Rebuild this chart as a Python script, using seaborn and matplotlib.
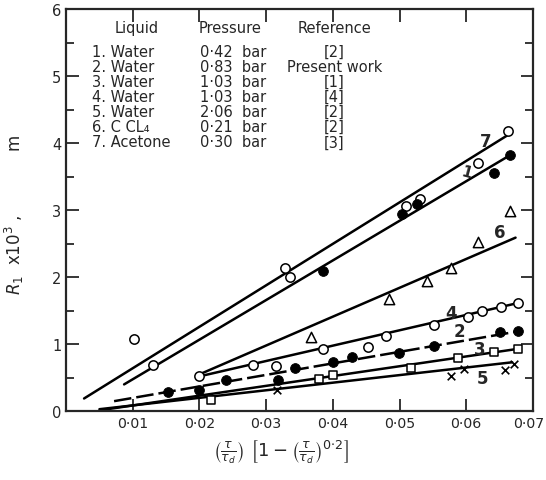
import numpy as np
import pandas as pd
import seaborn as sns
import matplotlib.pyplot as plt
import matplotlib.transforms as mtrans
from matplotlib.ticker import MultipleLocator

# measured points (x = (tau/tau_d)[1-(tau/tau_d)^0.2], y = R1 x 10^3 m)
x7 = [0.0102, 0.0131, 0.0328, 0.0336, 0.0509, 0.0531, 0.0618, 0.0662]
y7 = [1.085, 0.69, 2.14, 2.01, 3.06, 3.17, 3.71, 4.18]
x1 = [0.0386, 0.0503, 0.0526, 0.0642, 0.0666]
y1 = [2.09, 2.94, 3.09, 3.56, 3.82]
x6 = [0.0368, 0.0484, 0.0541, 0.0577, 0.0618, 0.0666]
y6 = [1.10, 1.67, 1.94, 2.14, 2.52, 2.99]
x4 = [0.020, 0.028, 0.0315, 0.0386, 0.0453, 0.0479, 0.0551, 0.0603, 0.0624, 0.0652, 0.0677]
y4 = [0.53, 0.69, 0.68, 0.925, 0.96, 1.115, 1.28, 1.40, 1.50, 1.55, 1.61]
x2 = [0.0153, 0.020, 0.024, 0.0318, 0.0343, 0.040, 0.0429, 0.0499, 0.0551, 0.0651, 0.0677]
y2 = [0.29, 0.32, 0.47, 0.47, 0.65, 0.735, 0.815, 0.875, 0.975, 1.175, 1.19]
x3 = [0.0218, 0.038, 0.040, 0.0517, 0.0587, 0.0642, 0.0677]
y3 = [0.17, 0.48, 0.537, 0.65, 0.80, 0.885, 0.925]
x5 = [0.0316, 0.0577, 0.0596, 0.0658, 0.0672]
y5 = [0.32, 0.52, 0.627, 0.617, 0.70]

# fitted straight lines: (x start, x end), (y start, y end)
fit_x = {"7": [0.0027, 0.0664], "1": [0.0087, 0.0664], "6": [0.020, 0.0674],
         "4": [0.020, 0.0680], "2": [0.0072, 0.0677], "3": [0.0055, 0.0677],
         "5": [0.0050, 0.0669]}
fit_y = {"7": [0.19, 4.13], "1": [0.40, 3.81], "6": [0.55, 2.59],
         "4": [0.52, 1.62], "2": [0.15, 1.19], "3": [0.02, 0.93],
         "5": [0.03, 0.73]}

# line labels
lab_text = ["7", "1", "6", "4", "2", "3", "5"]
lab_x = [0.0629, 0.0601, 0.0651, 0.0577, 0.0590, 0.0620, 0.0625]
lab_y = [4.03, 3.57, 2.68, 1.47, 1.20, 0.935, 0.50]

# key table
liquids = ["1. Water", "2. Water", "3. Water", "4. Water", "5. Water",
           "6. C CL₄", "7. Acetone"]
pressures = ["0·42  bar", "0·83  bar", "1·03  bar", "1·03  bar", "2·06  bar",
             "0·21  bar", "0·30  bar"]
references = ["[2]", "Present work", "[1]", "[4]", "[2]", "[2]", "[3]"]

sns.set_style("ticks")
plt.rcParams['font.family'] = ['DejaVu Sans']

fig = plt.figure(figsize=(5.46, 4.81), dpi=100)
ax = fig.add_axes([0.121, 0.143, 0.855, 0.836])

for key in fit_x:
    if key == "2":
        sns.lineplot(x=fit_x[key], y=fit_y[key], color="black", lw=1.8,
                     ax=ax, linestyle=(0, (7, 2)), zorder=2)
    else:
        sns.lineplot(x=fit_x[key], y=fit_y[key], color="black", lw=1.8,
                     ax=ax, zorder=2)

open_kw = dict(facecolor="white", edgecolor="black", linewidth=1.1, zorder=3, ax=ax)
sns.scatterplot(x=x7, y=y7, marker="o", s=45, **open_kw)
sns.scatterplot(x=x4, y=y4, marker="o", s=45, **open_kw)
sns.scatterplot(x=x6, y=y6, marker="^", s=55, **open_kw)
sns.scatterplot(x=x3, y=y3, marker="s", s=38, **open_kw)
sns.scatterplot(x=x1, y=y1, marker="o", s=50, color="black", edgecolor="black", zorder=3, ax=ax)
sns.scatterplot(x=x2, y=y2, marker="o", s=50, color="black", edgecolor="black", zorder=3, ax=ax)
sns.scatterplot(x=x5, y=y5, marker="x", s=30, color="black", linewidth=1.2, zorder=3, ax=ax)

for t, lx, ly in zip(lab_text, lab_x, lab_y):
    if t == "1":
        ax.text(lx, ly, t, fontsize=11, fontweight="bold", ha="center", va="center",
                rotation=-15, zorder=4)
    else:
        ax.text(lx, ly, t, fontsize=12, fontweight="bold", ha="center", va="center", zorder=4)

# key table in the upper left
ax.text(0.105, 0.955, "Liquid", transform=ax.transAxes, fontsize=10.5, va="center")
ax.text(0.285, 0.955, "Pressure", transform=ax.transAxes, fontsize=10.5, va="center")
ax.text(0.575, 0.955, "Reference", transform=ax.transAxes, fontsize=10.5, va="center", ha="center")
for i in range(len(liquids)):
    yy = 0.895 - i * 0.0375
    ax.text(0.055, yy, liquids[i], transform=ax.transAxes, fontsize=10.5, va="center")
    ax.text(0.287, yy, pressures[i], transform=ax.transAxes, fontsize=10.5, va="center")
    ax.text(0.575, yy, references[i], transform=ax.transAxes, fontsize=10.5,
            va="center", ha="center")

ax.set_xlim(0, 0.07)
ax.set_ylim(0, 6)
xt = [0.01, 0.02, 0.03, 0.04, 0.05, 0.06, 0.07]
ax.set_xticks(xt)
ax.set_xticklabels([f"{v:.2f}".replace(".", "·") for v in xt], fontsize=10.2)
ax.set_yticks(range(7))
ax.set_yticklabels([str(v) for v in range(7)], fontsize=10.5)
ax.yaxis.set_minor_locator(MultipleLocator(0.5))
ax.tick_params(which="both", direction="in", top=True, right=True, width=1.3)
ax.tick_params(which="major", length=9)
ax.tick_params(which="minor", length=6)
for s in ax.spines.values():
    s.set_linewidth(1.6)

# keep the last x tick label inside the picture
last = ax.get_xticklabels()[-1]
last.set_transform(last.get_transform() + mtrans.ScaledTranslation(-4 / 100, 0, fig.dpi_scale_trans))

ax.set_xlabel(r"$\left(\frac{\tau}{\tau_d}\right)\ \left[1-\left(\frac{\tau}{\tau_d}\right)^{0{\cdot}2}\right]$",
              fontsize=13)
ax.xaxis.set_label_coords(0.46, -0.065, transform=ax.transAxes)
ax.xaxis.label.set_va("top")
ax.set_ylabel(r"$R_1$  x10$^3$ ,            m", fontsize=12)
ax.yaxis.set_label_coords(-0.085, 0.49)

fig.savefig("out.png", dpi=100)
